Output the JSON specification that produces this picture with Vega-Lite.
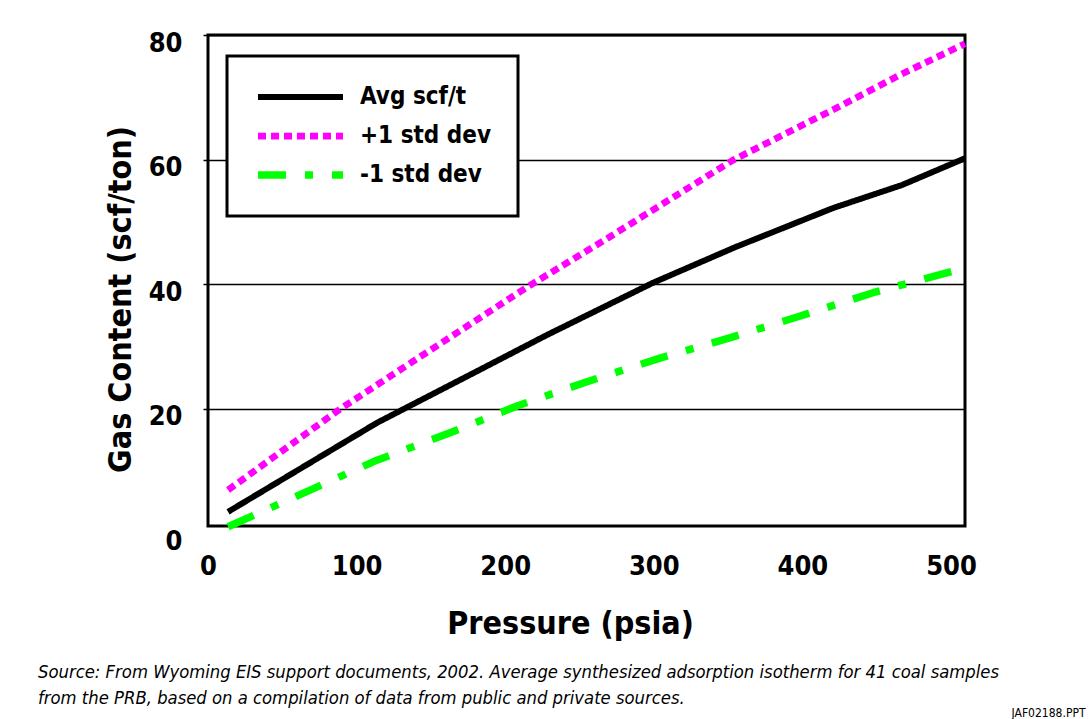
{
  "$schema": "https://vega.github.io/schema/vega-lite/v6.json",
  "width": 757,
  "height": 491,
  "autosize": {"type": "none"},
  "padding": {"left": 208, "top": 35, "right": 126, "bottom": 193},
  "background": "white",
  "config": {
    "view": {"stroke": "black", "strokeWidth": 3},
    "font": "DejaVu Sans Condensed, Liberation Sans Narrow, sans-serif",
    "legend": {
      "orient": "none",
      "legendX": 19,
      "legendY": 21,
      "symbolType": "stroke",
      "symbolSize": 7225,
      "symbolStrokeWidth": 6,
      "clipHeight": 28,
      "rowPadding": 11,
      "padding": 27,
      "labelFontSize": 24,
      "labelFontWeight": "bold",
      "labelColor": "black",
      "labelOffset": 13,
      "labelLimit": 400,
      "strokeColor": "black",
      "strokeWidth": 3,
      "fillColor": "white"
    }
  },
  "title": {
    "text": [
      "Source: From Wyoming EIS support documents, 2002.  Average synthesized adsorption isotherm for 41 coal samples",
      "from the PRB, based on a compilation of data from public and private sources."
    ],
    "orient": "bottom",
    "anchor": "start",
    "frame": "group",
    "dx": -170,
    "dy": -40,
    "offset": 0,
    "fontSize": 18.3,
    "fontStyle": "italic",
    "fontWeight": "normal",
    "color": "black",
    "lineHeight": 26,
    "baseline": "alphabetic"
  },
  "datasets": {
    "curves": [
      {"series": "Avg scf/t", "pressure": 13.5, "gas": 3.4},
      {"series": "Avg scf/t", "pressure": 113.7, "gas": 17.7},
      {"series": "Avg scf/t", "pressure": 173, "gas": 25.0},
      {"series": "Avg scf/t", "pressure": 228, "gas": 31.8},
      {"series": "Avg scf/t", "pressure": 299.5, "gas": 40.2},
      {"series": "Avg scf/t", "pressure": 354.6, "gas": 45.9},
      {"series": "Avg scf/t", "pressure": 420.6, "gas": 52.2},
      {"series": "Avg scf/t", "pressure": 467, "gas": 55.9},
      {"series": "Avg scf/t", "pressure": 509.4, "gas": 60.2},
      {"series": "+1 std dev", "pressure": 13.5, "gas": 6.9},
      {"series": "+1 std dev", "pressure": 88.8, "gas": 19.9},
      {"series": "+1 std dev", "pressure": 129.2, "gas": 26.2},
      {"series": "+1 std dev", "pressure": 214.7, "gas": 39.5},
      {"series": "+1 std dev", "pressure": 263.8, "gas": 46.6},
      {"series": "+1 std dev", "pressure": 353.3, "gas": 59.9},
      {"series": "+1 std dev", "pressure": 420.6, "gas": 68.0},
      {"series": "+1 std dev", "pressure": 465.7, "gas": 73.6},
      {"series": "+1 std dev", "pressure": 509.4, "gas": 78.6},
      {"series": "-1 std dev", "pressure": 13.5, "gas": 1.0},
      {"series": "-1 std dev", "pressure": 113.7, "gas": 11.7},
      {"series": "-1 std dev", "pressure": 162.9, "gas": 16.1},
      {"series": "-1 std dev", "pressure": 207.9, "gas": 20.4},
      {"series": "-1 std dev", "pressure": 255, "gas": 24.3},
      {"series": "-1 std dev", "pressure": 304.2, "gas": 28.1},
      {"series": "-1 std dev", "pressure": 353.3, "gas": 31.5},
      {"series": "-1 std dev", "pressure": 396.4, "gas": 34.7},
      {"series": "-1 std dev", "pressure": 447.5, "gas": 38.6},
      {"series": "-1 std dev", "pressure": 509.4, "gas": 42.6}
    ]
  },
  "data": {"name": "curves"},
  "encoding": {
    "x": {
      "field": "pressure",
      "type": "quantitative",
      "scale": {"domain": [0, 509.4], "nice": false, "zero": false},
      "axis": {
        "values": [0, 100, 200, 300, 400, 500],
        "title": "Pressure (psia)",
        "domain": false,
        "ticks": false,
        "grid": false,
        "labelFontSize": 27,
        "labelFontWeight": "bold",
        "labelColor": "black",
        "labelPadding": 27,
        "labelFlush": false,
        "labelOverlap": false,
        "titleFontSize": 32,
        "titleFontWeight": "bold",
        "titleColor": "black",
        "titleX": 362,
        "titleY": 107,
        "titleAlign": "center",
        "titleBaseline": "alphabetic"
      }
    }
  },
  "layer": [
    {
      "mark": {"type": "line", "strokeCap": "butt", "strokeJoin": "round"},
      "encoding": {
        "y": {
          "field": "gas",
          "type": "quantitative",
          "scale": {"domain": [0, 80], "range": [498, 0], "nice": false},
          "axis": {
            "values": [0, 20, 40, 60, 80],
            "title": "Gas Content (scf/ton)",
            "domain": false,
            "grid": true,
            "gridColor": {"condition": {"test": "datum.value === 0", "value": "transparent"}, "value": "black"},
            "gridWidth": 1.5,
            "ticks": true,
            "tickSize": 5,
            "tickWidth": 1.5,
            "tickColor": {"condition": {"test": "datum.value === 0", "value": "transparent"}, "value": "black"},
            "labelFontSize": 27,
            "labelFontWeight": "bold",
            "labelColor": "black",
            "labelPadding": 21,
            "labelOffset": 8,
            "labelBaseline": "middle",
            "labelOverlap": false,
            "titleFontSize": 32,
            "titleFontWeight": "bold",
            "titleColor": "black",
            "titleX": -78,
            "titleY": 264,
            "titleAngle": -90,
            "titleAlign": "center",
            "titleBaseline": "alphabetic"
          }
        },
        "color": {
          "field": "series",
          "type": "nominal",
          "scale": {"domain": ["Avg scf/t", "+1 std dev", "-1 std dev"], "range": ["#000000", "#FF00FF", "#00FF00"]},
          "legend": {"title": null}
        },
        "strokeDash": {
          "field": "series",
          "type": "nominal",
          "scale": {"domain": ["Avg scf/t", "+1 std dev", "-1 std dev"], "range": [[1, 0], [8, 5], [28, 19, 8, 19]]},
          "legend": {"title": null}
        },
        "strokeWidth": {
          "field": "series",
          "type": "nominal",
          "scale": {"domain": ["Avg scf/t", "+1 std dev", "-1 std dev"], "range": [6, 7.5, 7]},
          "legend": null
        }
      }
    },
    {
      "mark": {"type": "line", "opacity": 0},
      "encoding": {
        "y": {
          "field": "gas",
          "type": "quantitative",
          "axis": {
            "orient": "right",
            "labels": false,
            "ticks": false,
            "domain": false,
            "grid": false,
            "title": "JAF02188.PPT",
            "titleAngle": 0,
            "titleX": 120,
            "titleY": 681,
            "titleAlign": "right",
            "titleBaseline": "alphabetic",
            "titleFontSize": 12,
            "titleFontWeight": "normal",
            "titleColor": "black"
          }
        },
        "detail": {"field": "series", "type": "nominal"}
      }
    }
  ],
  "resolve": {"axis": {"y": "independent"}}
}
